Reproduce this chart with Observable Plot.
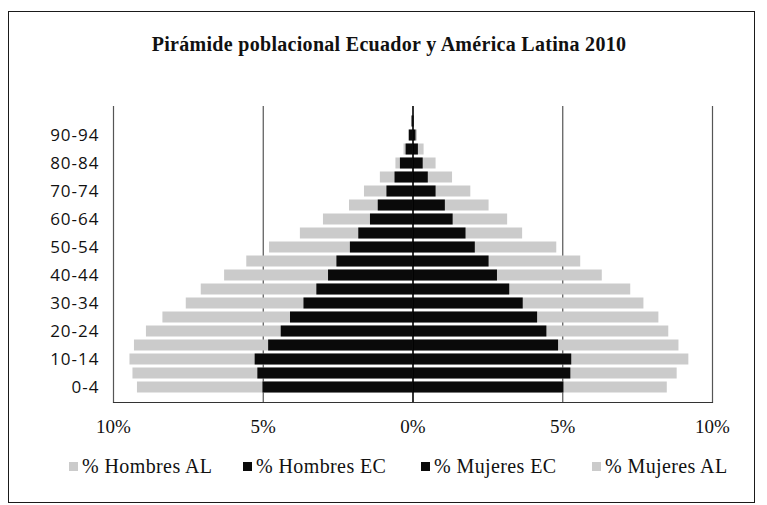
<!DOCTYPE html>
<html>
<head>
<meta charset="utf-8">
<script src="https://cdn.jsdelivr.net/npm/d3@7"></script>
<script src="https://cdn.jsdelivr.net/npm/@observablehq/plot@0.6"></script>
<style>
  body { margin: 0; background: #fff; }
  #wrap { position: relative; width: 767px; height: 505px; overflow: hidden; background: #fff; }
  #border { position: absolute; left: 8px; top: 11px; width: 747px; height: 492px; border: 1.5px solid #1a1a1a; box-sizing: border-box; }
  #title { position: absolute; left: 0; top: 33px; width: 778px; text-align: center; font: bold 20px "Liberation Serif", serif; letter-spacing: 0.3px; color: #111; }
  #chart { position: absolute; left: 0; top: 0; }
  #legend { position: absolute; left: 0; top: 455px; width: 767px; height: 24px; font: 20px "Liberation Serif", serif; color: #111; }
  .item { position: absolute; top: 0; white-space: nowrap; letter-spacing: 0.4px; }
  .sw { position: absolute; top: 7px; width: 9px; height: 9px; }
  svg g[aria-label="y-axis tick label"] { font-family: "Open Sans", sans-serif; font-size: 17px; letter-spacing: 1px; }
  svg g[aria-label="x-axis tick label"] { font-family: "Liberation Serif", serif; font-size: 19px; }
</style>
</head>
<body>
<div id="wrap">
  <div id="border"></div>
  <div id="title"></div>
  <div id="chart"></div>
  <div id="legend"></div>
</div>
<script>
const titleText = "Pirámide poblacional Ecuador y América Latina 2010";
const ages = ["0-4","5-9","10-14","15-19","20-24","25-29","30-34","35-39","40-44","45-49",
              "50-54","55-59","60-64","65-69","70-74","75-79","80-84","85-89","90-94","95-99"];
const ageTicks = ["0-4","10-14","20-24","30-34","40-44","50-54","60-64","70-74","80-84","90-94"];
const hombresAL = [9.20, 9.35, 9.45, 9.30, 8.90, 8.35, 7.57, 7.07, 6.29, 5.55, 4.79, 3.76, 2.99, 2.12, 1.62, 1.09, 0.57, 0.30, 0.15, 0.05];
const hombresEC = [5.01, 5.18, 5.27, 4.82, 4.40, 4.09, 3.64, 3.21, 2.82, 2.54, 2.09, 1.81, 1.42, 1.16, 0.87, 0.60, 0.42, 0.23, 0.12, 0.03];
const mujeresEC = [5.04, 5.27, 5.30, 4.86, 4.47, 4.16, 3.68, 3.23, 2.82, 2.54, 2.08, 1.77, 1.34, 1.08, 0.77, 0.51, 0.34, 0.18, 0.10, 0.03];
const mujeresAL = [8.49, 8.82, 9.21, 8.88, 8.54, 8.21, 7.71, 7.27, 6.32, 5.60, 4.80, 3.66, 3.16, 2.54, 1.93, 1.32, 0.77, 0.37, 0.15, 0.05];
const xTicks = [-10, -5, 0, 5, 10];
const seriesNames = ["% Hombres AL", "% Hombres EC", "% Mujeres EC", "% Mujeres AL"];

const colorAL = "#cbcbcb";
const colorEC = "#0a0a0a";

document.getElementById("title").textContent = titleText;

const rows = ages.map((a, i) => ({
  age: a,
  hAL: -hombresAL[i], hEC: -hombresEC[i], mEC: mujeresEC[i], mAL: mujeresAL[i]
}));

const barOpts = {y: "age", insetTop: 1.5, insetBottom: 1.5};

const chart = Plot.plot({
  width: 767,
  height: 445,
  marginTop: 106,
  marginBottom: 43,
  marginLeft: 113,
  marginRight: 55,
  x: {domain: [-10, 10], label: null},
  y: {domain: ages.slice().reverse(), padding: 0, label: null},
  marks: [
    Plot.ruleX([-10, -5, 5, 10], {stroke: "#555", strokeWidth: 1.2}),
    Plot.barX(rows, {...barOpts, x1: 0, x2: "hAL", fill: colorAL}),
    Plot.barX(rows, {...barOpts, x1: 0, x2: "mAL", fill: colorAL}),
    Plot.barX(rows, {...barOpts, x1: 0, x2: "hEC", fill: colorEC}),
    Plot.barX(rows, {...barOpts, x1: 0, x2: "mEC", fill: colorEC}),
    Plot.ruleX([0], {stroke: "#000", strokeWidth: 1.6}),
    Plot.frame({anchor: "bottom", stroke: "#333", strokeWidth: 1.2}),
    Plot.axisY({ticks: ageTicks, tickSize: 0, tickPadding: 14, fontSize: 17, fill: "#111", label: null}),
    Plot.axisX({ticks: xTicks, tickFormat: d => Math.abs(d) + "%", tickSize: 0, tickPadding: 17, fontSize: 19, fill: "#111", label: null})
  ]
});
document.getElementById("chart").appendChild(chart);

const legendPos = [
  {text: 82, color: colorAL},
  {text: 256, color: colorEC},
  {text: 434, color: colorEC},
  {text: 605, color: colorAL}
];
const legend = document.getElementById("legend");
seriesNames.forEach((name, i) => {
  const sw = document.createElement("span");
  sw.className = "sw";
  sw.style.left = (legendPos[i].text - 13) + "px";
  sw.style.background = legendPos[i].color;
  legend.appendChild(sw);
  const it = document.createElement("span");
  it.className = "item";
  it.style.left = legendPos[i].text + "px";
  it.textContent = name;
  legend.appendChild(it);
});
</script>
</body>
</html>
